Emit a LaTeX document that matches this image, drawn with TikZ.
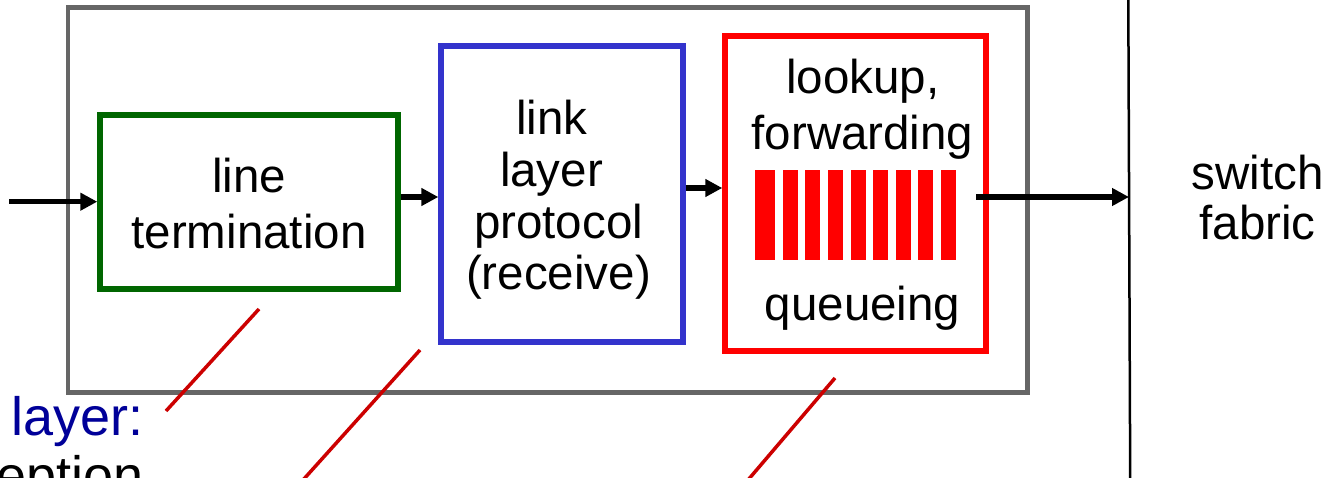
\documentclass[tikz,border=0pt]{standalone}
\usepackage{fontspec}
\setmainfont{Liberation Sans}
\usetikzlibrary{arrows.meta}
\definecolor{boxgray}{HTML}{666666}
\definecolor{tgreen}{HTML}{006600}
\definecolor{tblue}{HTML}{3333CC}
\definecolor{tred}{HTML}{FF0000}
\definecolor{cred}{HTML}{CC0000}
\definecolor{dblue}{HTML}{000099}
\begin{document}
\begin{tikzpicture}[x=1pt,y=-1pt,
  box/.style={draw, inner sep=0pt, fill=white},
  txt/.style={inner sep=0pt, anchor=base, font=\fontsize{47.5pt}{56pt}\selectfont},
  bigtxt/.style={inner sep=0pt, font=\fontsize{54pt}{60pt}\selectfont},
  arr/.style={line width=5.5pt, -{Triangle[length=17pt,width=17pt]}},
  callout/.style={draw=cred, line width=3.5pt},
  qbar/.style={fill=tred, draw=none}]
\useasboundingbox (0,0) rectangle (1330,478);
\clip (0,0) rectangle (1330,478);

% outer port box
\node[box, draw=boxgray, line width=4.5pt, minimum width=959.7pt, minimum height=385.2pt] (port) at (547.65,200.1) {};

% inner boxes
\node[box, draw=tgreen, line width=6pt, minimum width=297.7pt, minimum height=173.5pt] (lt) at (249.15,202.25) {};
\node[box, draw=tblue, line width=5.7pt, minimum width=241.6pt, minimum height=296pt] (lp) at (562,194.2) {};
\node[box, draw=tred, line width=6pt, minimum width=261pt, minimum height=315pt] (lf) at (855.8,193.5) {};

% texts
\node[txt] (lt1) at (249,192.3) {line};
\node[txt] (lt2) at (249,248.5) {termination};
\node[txt] (lp1) at (552,135) {link};
\node[txt] (lp2) at (551.5,187) {layer};
\node[txt] (lp3) at (558.5,238.5) {protocol};
\node[txt] (lp4) at (558.5,290) {(receive)};
\node[txt] (lf1) at (863,94) {lookup,};
\node[txt] (lf2) at (862.5,150) {forwarding};
\node[txt] (lf3) at (862.5,320) {queueing};

% queue bars
\fill[qbar] (755,170) rectangle (775,260);
\foreach \k in {0,...,7}{
  \fill[qbar] ({782.7+22.6*\k},170) rectangle ({797.7+22.6*\k},260);
}

% switch fabric
\coordinate (ftop) at (1128.3,0);
\coordinate (fbot) at (1130.2,478);
\draw[line width=2.5pt] (ftop) -- (fbot);
\coordinate (fab) at (1129,197);
\node[txt] (sf1) at (1257.5,189.3) {switch};
\node[txt] (sf2) at (1257.5,240) {fabric};

% arrows
\coordinate (in) at (9,201.7);
\draw[arr] (in) -- (lt.west |- in);
\draw[arr] (lt.east |- 0,197) -- (lp.west |- 0,197);
\draw[arr] (lp.east |- 0,188) -- (lf.west |- 0,188);
\coordinate (qout) at (976,197);
\draw[arr] (qout) -- (fab);

% bottom-left labels
\node[bigtxt, anchor=base west, text=dblue] (phy) at (11.4,435) {layer:};
\node[bigtxt, anchor=base east] (rec) at (143.6,494.7) {reception};

% callout lines
\coordinate (c1a) at (259,309);
\coordinate (c1b) at (166,411);
\coordinate (c2a) at (420,350);
\coordinate (c2b) at (303,480);
\coordinate (c3a) at (835,378);
\coordinate (c3b) at (748,480);
\draw[callout] (c1a) -- (c1b);
\draw[callout] (c2a) -- (c2b);
\draw[callout] (c3a) -- (c3b);
\end{tikzpicture}
\end{document}
